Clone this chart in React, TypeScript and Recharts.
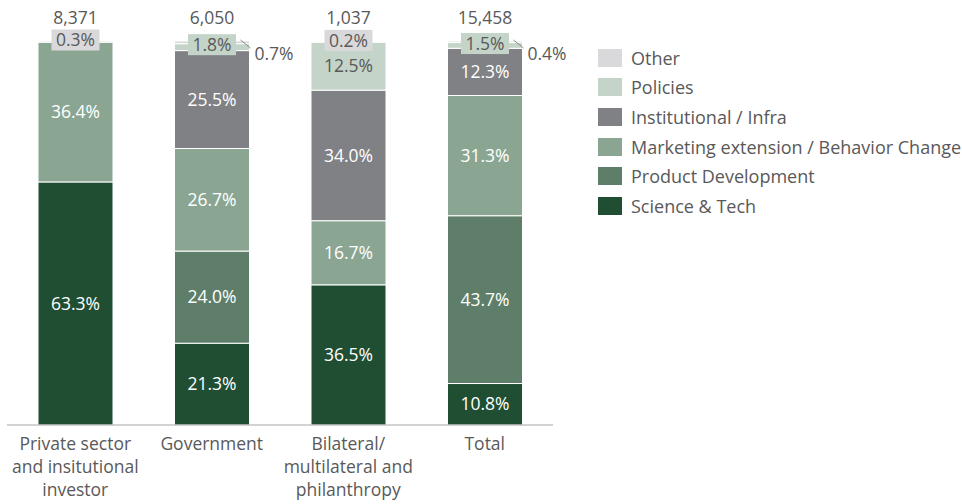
import React from "react";
import { BarChart, Bar, XAxis, YAxis, LabelList, Legend } from "recharts";

const categories = ["Private", "Government", "Bilateral", "Total"];
const categoryLines = [
  ["Private sector", "and insitutional", "investor"],
  ["Government"],
  ["Bilateral/", "multilateral and", "philanthropy"],
  ["Total"],
];
const totals = ["8,371", "6,050", "1,037", "15,458"];

const scienceTech = [63.3, 21.3, 36.5, 10.8];
const productDev = [0, 24.0, 0, 43.7];
const marketing = [36.4, 26.7, 16.7, 31.3];
const institutional = [0, 25.5, 34.0, 12.3];
const policies = [0, 1.8, 12.5, 1.5];
const other = [0.3, 0.7, 0.2, 0.4];

const seriesNames = [
  "Science & Tech",
  "Product Development",
  "Marketing extension / Behavior Change",
  "Institutional / Infra",
  "Policies",
  "Other",
];
const seriesKeys = ["science", "product", "marketing", "institutional", "policies", "other"];
const seriesColors = ["#1f4e33", "#5e7e69", "#8aa693", "#808185", "#c4d4c9", "#d9d9db"];

const data = categories.map((c, i) => ({
  name: c,
  science: scienceTech[i],
  product: productDev[i],
  marketing: marketing[i],
  institutional: institutional[i],
  policies: policies[i],
  other: other[i],
}));

const FONT = "'Open Sans', 'Noto Sans', sans-serif";
const GREY_TEXT = "#595959";
const FS = 17.5;
const LEGEND_FS = 18;

const fmt = (v: number) => `${v.toFixed(1)}%`;

const geom = (p: any) => {
  const vb = p.viewBox || {};
  const x = Number(p.x ?? vb.x);
  const y = Number(p.y ?? vb.y);
  const width = Number(p.width ?? vb.width);
  const height = Number(p.height ?? vb.height);
  return { x, y, width, height };
};

const makeInnerLabel = (color: string) => (p: any) => {
  const v = Number(p.value);
  if (!v) return null;
  const { x, y, width, height } = geom(p);
  return (
    <text
      x={x + width / 2}
      y={y + height / 2}
      dy="0.35em"
      textAnchor="middle"
      fill={color}
      fontSize={FS}
      fontFamily={FONT}
    >
      {fmt(v)}
    </text>
  );
};

const PoliciesLabel = (p: any) => {
  const v = Number(p.value);
  if (!v) return null;
  const { x, y, width, height } = geom(p);
  const cx = x + width / 2;
  if (v >= 5) {
    return (
      <text x={cx} y={y + height / 2} dy="0.35em" textAnchor="middle" fill={GREY_TEXT} fontSize={FS} fontFamily={FONT}>
        {fmt(v)}
      </text>
    );
  }
  const cy = y + 1;
  return (
    <g>
      <rect x={cx - 24} y={cy - 10.5} width={48} height={21} fill={seriesColors[4]} />
      <text x={cx} y={cy} dy="0.35em" textAnchor="middle" fill={GREY_TEXT} fontSize={FS} fontFamily={FONT}>
        {fmt(v)}
      </text>
    </g>
  );
};

const OtherLabel = (p: any) => {
  const v = Number(p.value);
  const idx = Number(p.index);
  const { x, y, width } = geom(p);
  const cx = x + width / 2;
  const pol = policies[idx];
  const callout = pol > 0 && pol < 5;
  const right = x + width;
  return (
    <g>
      <text x={cx} y={y - 17} textAnchor="middle" fill={GREY_TEXT} fontSize={FS} fontFamily={FONT}>
        {totals[idx]}
      </text>
      {v > 0 && !callout && (
        <g>
          <rect x={cx - 24} y={y - 11.5} width={48} height={21} fill={seriesColors[5]} />
          <text x={cx} y={y - 1} dy="0.35em" textAnchor="middle" fill={GREY_TEXT} fontSize={FS} fontFamily={FONT}>
            {fmt(v)}
          </text>
        </g>
      )}
      {v > 0 && callout && (
        <g>
          <line x1={right - 9} y1={y - 1} x2={right + 1} y2={y + 7} stroke="#8c8c8c" strokeWidth={1} />
          <text x={right + 5} y={y + 13} dy="0.35em" textAnchor="start" fill={GREY_TEXT} fontSize={FS} fontFamily={FONT}>
            {fmt(v)}
          </text>
        </g>
      )}
    </g>
  );
};

const CategoryTick = (p: any) => {
  const { x, y, payload } = p;
  const idx = categories.indexOf(payload.value);
  const lines = categoryLines[idx] || [payload.value];
  return (
    <text x={x} y={y} textAnchor="middle" fill={GREY_TEXT} fontSize={FS} fontFamily={FONT}>
      {lines.map((l, i) => (
        <tspan key={i} x={x} dy={i === 0 ? 25 : 23}>
          {l}
        </tspan>
      ))}
    </text>
  );
};

const LegendContent = () => {
  const order = [5, 4, 3, 2, 1, 0];
  return (
    <div style={{ fontFamily: FONT }}>
      {order.map((i) => (
        <div key={i} style={{ display: "flex", alignItems: "center", height: 29.6 }}>
          <div style={{ width: 24, height: 18, background: seriesColors[i], marginRight: 9, flexShrink: 0 }} />
          <span style={{ fontSize: LEGEND_FS, color: GREY_TEXT, whiteSpace: "nowrap" }}>{seriesNames[i]}</span>
        </div>
      ))}
    </div>
  );
};

const innerColors = ["#ffffff", "#ffffff", "#ffffff", "#ffffff"];

export default function App() {
  return (
    <div style={{ position: "absolute", left: 0, top: 0, width: 962, height: 504, background: "#fff", overflow: "hidden" }}>
      <BarChart
        width={962}
        height={504}
        data={data}
        margin={{ top: 41, left: 7, right: 409, bottom: 0 }}
        barSize={75}
        style={{ fontFamily: FONT }}
      >
        <XAxis
          dataKey="name"
          axisLine={{ stroke: "#a6a6a6", strokeWidth: 1 }}
          tickLine={false}
          tickSize={0}
          tickMargin={0}
          height={79}
          interval={0}
          tick={<CategoryTick />}
        />
        <YAxis hide domain={[0, 100]} allowDataOverflow />
        <Legend
          layout="vertical"
          align="center"
          verticalAlign="middle"
          content={<LegendContent />}
          wrapperStyle={{ left: 598, top: 43, width: 364 }}
        />
        {seriesKeys.map((k, i) => (
          <Bar
            key={k}
            dataKey={k}
            name={seriesNames[i]}
            stackId="a"
            fill={seriesColors[i]}
            stroke="#ffffff"
            strokeWidth={1}
            isAnimationActive={false}
          >
            {i < 4 && <LabelList dataKey={k} content={makeInnerLabel(innerColors[i])} />}
            {i === 4 && <LabelList dataKey={k} content={PoliciesLabel} />}
            {i === 5 && <LabelList dataKey={k} content={OtherLabel} />}
          </Bar>
        ))}
      </BarChart>
    </div>
  );
}
